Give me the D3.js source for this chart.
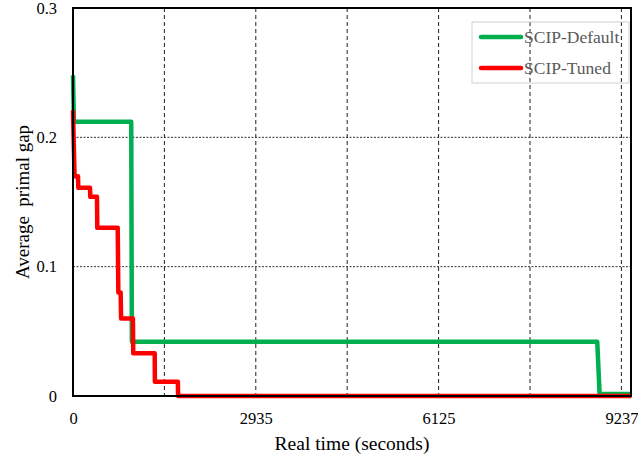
<!DOCTYPE html>
<html>
<head>
<meta charset="utf-8">
<script src="https://cdn.jsdelivr.net/npm/d3@7"></script>
<style>
  body { margin: 0; background: #fff; }
  svg text { font-family: 'Liberation Serif', 'DejaVu Serif', serif !important; }
</style>
</head>
<body>
<div id="chart"></div>
<script>
// Tick labels on the time axis (seconds)
var timeTicks = [0, 2935, 6125, 9237];
var gapTicks = [0, 0.1, 0.2, 0.3];

// SCIP-Default: average primal gap vs real time
var defaultTime = [0, 15, 935, 945, 8826, 8866, 9407];
var defaultGap = [0.248, 0.212, 0.212, 0.042, 0.042, 0.0015, 0.0015];

// SCIP-Tuned: average primal gap vs real time
var tunedTime = [0, 15, 25, 80, 85, 273, 278, 385, 390, 718, 728, 765, 772, 962, 967, 1312, 1315, 1684, 1687, 9407];
var tunedGap = [0.221, 0.19, 0.17, 0.17, 0.161, 0.161, 0.154, 0.154, 0.13, 0.13, 0.08, 0.08, 0.06, 0.06, 0.033, 0.033, 0.011, 0.011, 0, 0];

var seriesNames = ['SCIP-Default', 'SCIP-Tuned'];
var seriesColors = ['#00B050', '#FF0000'];

var serif = "'Liberation Serif', 'DejaVu Serif', serif";

// Chart size
var margin = { top: 8, right: 7, bottom: 63, left: 73 },
    width = 638 - margin.left - margin.right,
    height = 459 - margin.top - margin.bottom,
    tickStep = 182.8;

var svg = d3.select('#chart').append('svg')
  .attr('width', 638)
  .attr('height', 459)
  .style('font-family', serif);

var g = svg.append('g')
  .attr('transform', 'translate(' + margin.left + ',' + margin.top + ')');

// Scales (labels sit at equal spacing on the time axis)
var x = d3.scaleLinear()
  .domain(timeTicks)
  .range(timeTicks.map(function(d, i) { return i * tickStep; }));

var y = d3.scaleLinear()
  .domain([0, 0.3])
  .range([height, 0]);

// Vertical grid: at every label and half way between labels
var gridTimes = [];
timeTicks.forEach(function(t, i) {
  if (i > 0) {
    gridTimes.push((timeTicks[i - 1] + t) / 2);
    gridTimes.push(t);
  }
});

g.append('g')
  .selectAll('line')
  .data(gridTimes).enter()
  .append('line')
    .attr('x1', function(d) { return x(d); })
    .attr('x2', function(d) { return x(d); })
    .attr('y1', 0)
    .attr('y2', height)
    .attr('stroke', '#222')
    .attr('stroke-width', 1)
    .attr('stroke-dasharray', '4,3');

// Horizontal grid
g.append('g')
  .selectAll('line')
  .data([0.1, 0.2]).enter()
  .append('line')
    .attr('x1', 0)
    .attr('x2', width)
    .attr('y1', function(d) { return y(d); })
    .attr('y2', function(d) { return y(d); })
    .attr('stroke', '#333')
    .attr('stroke-width', 1)
    .attr('stroke-dasharray', '2,1.5');

// Axes (labels only, frame drawn below)
var xAxis = g.append('g')
  .attr('transform', 'translate(0,' + height + ')')
  .call(d3.axisBottom(x).tickValues(timeTicks).tickSize(0).tickPadding(16).tickFormat(d3.format('d')));

var yAxis = g.append('g')
  .call(d3.axisLeft(y).tickValues(gapTicks).tickSize(0).tickPadding(16)
    .tickFormat(function(d) { return d === 0 ? '0' : d3.format('.1f')(d); }));

[xAxis, yAxis].forEach(function(ax) {
  ax.attr('font-family', null);
  ax.select('.domain').remove();
  ax.selectAll('text')
    .style('font-family', serif)
    .attr('font-size', 16.5)
    .attr('fill', '#000');
});

// Series lines
var line = d3.line()
  .x(function(d) { return x(d[0]); })
  .y(function(d) { return y(d[1]); });

var series = [
  d3.zip(defaultTime, defaultGap),
  d3.zip(tunedTime, tunedGap)
];

series.forEach(function(s, i) {
  g.append('path')
    .datum(s)
    .attr('d', line)
    .attr('fill', 'none')
    .attr('stroke', seriesColors[i])
    .attr('stroke-width', 4.5)
    .attr('stroke-linejoin', 'round');
});

// Plot frame
g.append('rect')
  .attr('width', width)
  .attr('height', height)
  .attr('fill', 'none')
  .attr('stroke', '#000')
  .attr('stroke-width', 2);

// Axis titles
svg.append('text')
  .attr('x', margin.left + width / 2)
  .attr('y', 450)
  .attr('text-anchor', 'middle')
  .attr('font-size', 19.5)
  .text('Real time (seconds)');

svg.append('text')
  .attr('transform', 'translate(29,' + (margin.top + height / 2) + ') rotate(-90)')
  .attr('text-anchor', 'middle')
  .attr('font-size', 19)
  .style('white-space', 'pre')
  .text('Average  primal gap');

// Legend
var legend = svg.append('g')
  .attr('transform', 'translate(472,22)');

legend.append('rect')
  .attr('width', 157)
  .attr('height', 61)
  .attr('fill', 'none')
  .attr('stroke', '#d0d0d0')
  .attr('stroke-width', 1);

var items = legend.selectAll('.item')
  .data(seriesNames).enter()
  .append('g')
    .attr('class', 'item')
    .attr('transform', function(d, i) { return 'translate(0,' + (15 + i * 31) + ')'; });

items.append('line')
  .attr('x1', 9)
  .attr('x2', 49)
  .attr('stroke', function(d, i) { return seriesColors[i]; })
  .attr('stroke-width', 4.5)
  .attr('stroke-linecap', 'round');

items.append('text')
  .attr('x', 52)
  .attr('y', 5.5)
  .attr('font-size', 17.5)
  .attr('fill', '#595959')
  .text(function(d) { return d; });
</script>
</body>
</html>
